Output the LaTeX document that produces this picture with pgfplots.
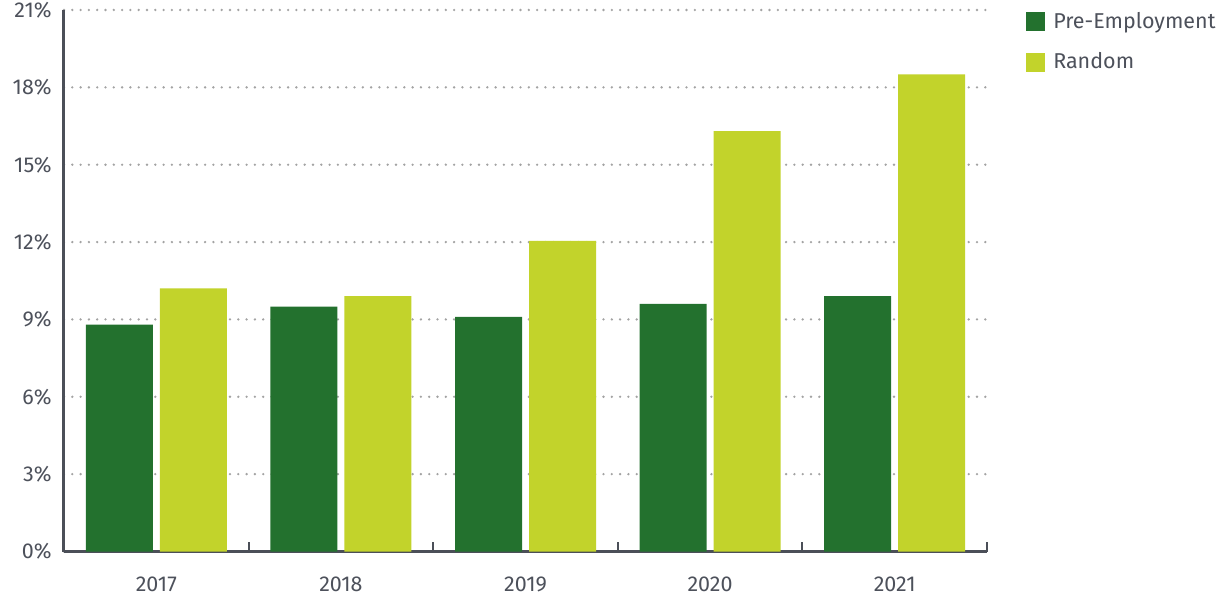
\documentclass[border=0pt]{standalone}
\usepackage{fontspec}
\setmainfont{Fira Sans}
\usepackage{pgfplots}
\pgfplotsset{compat=1.18}
\definecolor{dgreen}{HTML}{23712E}
\definecolor{lime}{HTML}{C2D32B}
\definecolor{txt}{HTML}{4D515B}
\definecolor{axc}{HTML}{4B4F58}
\definecolor{grd}{HTML}{A3A3A3}
\begin{document}
\fontsize{21.5}{25}\selectfont
\begin{tikzpicture}
\useasboundingbox (-64pt,-45.5pt) rectangle (1156pt,551.5pt);
\begin{axis}[
  at={(0pt,0pt)}, anchor=south west,
  scale only axis, width=923pt, height=541.5pt,
  ybar=7pt, bar width=67pt,
  xmin=-0.5, xmax=4.5, ymin=0, ymax=21,
  xtick={0,...,4}, xticklabels={2017,2018,2019,2020,2021},
  minor xtick={-0.5,0.5,...,4.5},
  ytick={0,3,...,21},
  yticklabel={\pgfmathprintnumber{\tick}\%},
  /pgf/number format/assume math mode=true,
  axis x line*=bottom, axis y line*=left,
  axis line style={axc, line width=3pt},
  major x tick style={draw=none},
  minor x tick style={axc, line width=2pt},
  ytick style={draw=none},
  minor tick length=9pt,
  xtick align=inside,
  ymajorgrids,
  major grid style={grd, line width=2.6pt, dash pattern=on 0pt off 8.3pt, line cap=round},
  tick label style={font=\fontsize{21.5}{25}\selectfont, text=txt},
  xticklabel style={yshift=-18pt},
  yticklabel style={xshift=-5pt},
  legend style={at={(1.0423,1.0003)}, anchor=north west, draw=none, fill=none,
    inner sep=0pt, font=\fontsize{21.5}{25}\selectfont, text=txt, row sep=17pt,
    /tikz/every odd column/.append style={column sep=6pt}},
  legend cell align=left,
]
\addplot[fill=dgreen, draw=none,
  legend image code/.code={\fill[dgreen] (0pt,-9.5pt) rectangle (19pt,9.5pt);}]
  coordinates {(0,8.8) (1,9.5) (2,9.1) (3,9.6) (4,9.9)};
\addplot[fill=lime, draw=none,
  legend image code/.code={\fill[lime] (0pt,-9.5pt) rectangle (19pt,9.5pt);}]
  coordinates {(0,10.2) (1,9.9) (2,12.05) (3,16.3) (4,18.5)};
\legend{Pre-Employment, Random}
\end{axis}
\end{tikzpicture}
\end{document}
